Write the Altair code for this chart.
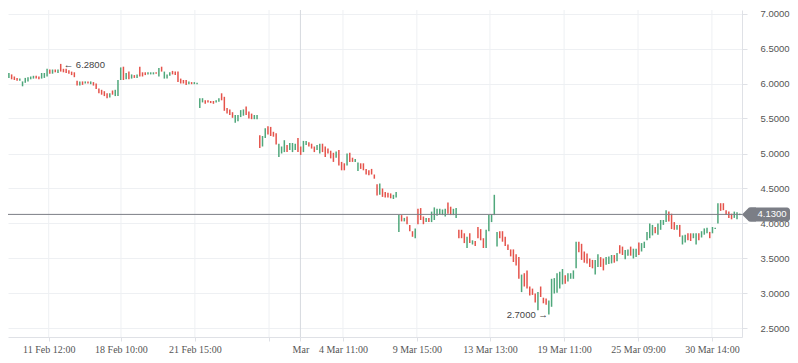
import altair as alt
import numpy as np
import pandas as pd

# ---------------- data ----------------
HIGH = [
    # segment 1
    6.16, 6.13, 6.13, 6.15, 6.13, 6.10, 6.08, 6.07, 6.03, 6.08, 6.09, 6.10, 6.11, 6.11, 6.10,
    6.15, 6.15, 6.21, 6.20, 6.20, 6.20, 6.20, 6.28,
    6.21, 6.21, 6.19, 6.17, 6.16, 6.04, 6.03, 6.03, 6.03, 6.03, 6.03, 6.02, 6.00, 5.93, 5.91, 5.89,
    5.86, 5.86, 5.90, 5.91, 6.05, 6.23,
    # segment 2
    6.24, 6.15, 6.17, 6.13, 6.12, 6.13, 6.24, 6.16, 6.16, 6.16, 6.16, 6.16, 6.16, 6.22, 6.24, 6.17,
    6.13, 6.16, 6.18, 6.17, 6.17, 6.07, 6.05, 6.05, 6.03, 6.02, 6.02, 6.01,
    # segment 3a
    5.79, 5.79, 5.76, 5.76, 5.75, 5.75, 5.76, 5.79, 5.86, 5.81, 5.65, 5.63, 5.59, 5.55, 5.55, 5.62,
    5.63, 5.67, 5.60, 5.57, 5.55, 5.55,
    # segment 3b
    5.26, 5.25, 5.36, 5.39, 5.38, 5.31, 5.29, 5.14, 5.10, 5.19,
    5.12, 5.15, 5.15, 5.14, 5.22, 5.10, 5.18, 5.18, 5.16, 5.14,
    5.10, 5.12, 5.14, 5.14, 5.10, 5.07, 5.04, 5.01, 5.03, 5.05,
    4.88, 4.86, 5.00, 5.01, 4.94, 4.92, 4.87, 4.86, 4.86, 4.78,
    4.76, 4.78, 4.70, 4.56,
    # segment 4
    4.57, 4.50, 4.45, 4.44, 4.43, 4.41, 4.45,
    4.12, 4.12, 4.08, 4.10, 3.98, 3.89, 3.93, 4.21, 4.22, 4.10, 4.08, 4.08, 4.17, 4.23, 4.21, 4.21,
    4.20, 4.21, 4.30, 4.24, 4.21, 4.22,
    3.91, 3.91, 3.86, 3.81, 3.86, 3.76, 3.75, 3.95, 3.92, 3.79, 3.91, 4.12, 4.13, 4.41, 3.88, 3.89,
    3.89, 3.81, 3.70, 3.63, 3.63, 3.56,
    # segment 5
    3.52, 3.27, 3.29, 3.33, 3.10, 3.07, 3.00, 3.02, 3.10, 2.94,
    2.93, 2.90, 3.21, 3.22, 3.29, 3.31, 3.35, 3.26, 3.29, 3.29,
    3.33, 3.74, 3.74, 3.71, 3.60, 3.57, 3.50, 3.48, 3.48, 3.56,
    3.52, 3.50, 3.52, 3.53, 3.55, 3.55, 3.58, 3.69, 3.67, 3.62,
    3.63, 3.67, 3.64, 3.64, 3.73,
    # segment 6
    3.72, 3.74, 3.88, 4.00, 3.98, 3.95, 4.00, 4.05, 4.05, 4.19,
    4.17, 4.14, 4.02, 3.98, 3.98, 3.83, 3.84, 3.86, 3.86, 3.86,
    3.86, 3.86, 3.89, 3.93, 3.94, 3.88, 3.95, 3.94, 4.29,
    4.29, 4.29, 4.19, 4.17, 4.14, 4.17, 4.16, 4.14,
]

LOW = [
    # segment 1
    6.12, 6.07, 6.07, 6.08, 6.06, 6.05, 6.04, 6.04, 5.96, 6.01, 6.03, 6.06, 6.07, 6.07, 6.06,
    6.07, 6.08, 6.10, 6.14, 6.14, 6.16, 6.15, 6.17,
    6.16, 6.15, 6.14, 6.12, 6.09, 5.97, 5.97, 5.98, 6.00, 6.00, 5.99, 5.97, 5.92, 5.86, 5.84, 5.82,
    5.79, 5.80, 5.84, 5.82, 5.82, 6.05,
    # segment 2
    6.05, 6.06, 6.06, 6.07, 6.08, 6.08, 6.10, 6.10, 6.12, 6.13, 6.13, 6.13, 6.14, 6.10, 6.17, 6.07,
    6.07, 6.11, 6.13, 6.12, 6.02, 6.00, 6.00, 5.98, 5.99, 5.99, 5.99, 5.99,
    # segment 3a
    5.65, 5.73, 5.71, 5.73, 5.72, 5.71, 5.73, 5.74, 5.76, 5.61, 5.57, 5.55, 5.51, 5.44, 5.46, 5.52,
    5.54, 5.55, 5.50, 5.49, 5.49, 5.49,
    # segment 3b
    5.08, 5.10, 5.22, 5.27, 5.25, 5.24, 5.13, 4.95, 5.00, 5.02,
    5.02, 5.05, 5.02, 5.05, 5.02, 4.98, 5.02, 5.12, 5.10, 5.07,
    5.02, 5.05, 5.00, 5.02, 4.95, 5.00, 4.93, 4.88, 4.94, 4.83,
    4.76, 4.76, 4.83, 4.88, 4.88, 4.88, 4.75, 4.78, 4.76, 4.70,
    4.69, 4.70, 4.64, 4.40,
    # segment 4
    4.41, 4.38, 4.37, 4.37, 4.36, 4.35, 4.37,
    3.88, 4.03, 4.03, 3.99, 3.89, 3.81, 3.79, 3.99, 4.05, 3.99, 4.02, 4.02, 4.02, 4.05, 4.11, 4.13,
    4.12, 4.10, 4.14, 4.12, 4.12, 4.08,
    3.79, 3.79, 3.72, 3.65, 3.72, 3.70, 3.68, 3.79, 3.76, 3.65, 3.65, 3.89, 4.02, 4.12, 3.67, 3.79,
    3.74, 3.68, 3.62, 3.53, 3.45, 3.40,
    # segment 5
    3.21, 3.02, 3.10, 3.07, 2.97, 2.98, 2.87, 2.76, 2.95, 2.86,
    2.84, 2.70, 2.81, 3.00, 3.01, 3.07, 3.13, 3.14, 3.17, 3.21,
    3.21, 3.36, 3.59, 3.48, 3.44, 3.43, 3.38, 3.36, 3.27, 3.38,
    3.38, 3.33, 3.41, 3.42, 3.43, 3.44, 3.46, 3.57, 3.55, 3.49,
    3.54, 3.54, 3.50, 3.52, 3.55,
    # segment 6
    3.60, 3.65, 3.76, 3.79, 3.83, 3.86, 3.84, 3.91, 3.98, 4.02,
    4.03, 3.92, 3.91, 3.91, 3.81, 3.70, 3.73, 3.76, 3.75, 3.79,
    3.70, 3.76, 3.80, 3.84, 3.86, 3.79, 3.86, 3.92, 4.00,
    4.18, 4.19, 4.12, 4.08, 4.06, 4.08, 4.06, 4.12,
]

# u = rising bar, d = falling bar (one string per segment)
DIRECTION = list((
    "dddu ddduu uuuud duuud ududd ddddd ududu ddddd duduu u"
    "dudud udddu uudud uuudd ddddu duu"
    "uuddd duudd ddduu uuddd uu"
    "duudd dduuu duuud duudd duudd dddud ddudd uuddd dddd"
    "udddduu" "ududd duddd uduuu uuudd uu" "dddud udddd uuuuu ddddd dd"
    "duddd ddudd duuuu uuduu uuddd ddduu dduuu duddu uduud"
    "uuuuu duuuu dddud uuddu uduuu duuu ddddd uuu"
).replace(" ", ""))

TICK_POS = [17.6, 44.1, 71.2, 98.4, 109.9, 125.5, 152.6, 179.4, 206.6, 233.7, 260.8]
TICK_LABELS = ["11 Feb 12:00", "18 Feb 10:00", "21 Feb 15:00", "", "Mar", "4 Mar 11:00",
               "9 Mar 15:00", "13 Mar 13:00", "19 Mar 11:00", "25 Mar 09:00", "30 Mar 14:00"]
Y_TICKS = [2.5, 3.0, 3.5, 4.0, 4.5, 5.0, 5.5, 6.0, 6.5, 7.0]
LAST_PRICE = 4.13

PW, PH = 734, 327
TOP_PAD, RIGHT_PAD, BOTTOM_PAD = 2, 48, 18

X_DOMAIN = [2.67, 271.83]
Y_DOMAIN = [7.05 - PH / 70.0, 7.05]

GREEN = "#4fa77b"
RED = "#e5534b"
GRID = "#eef0f3"
AXIS_LINE = "#dfe1e6"
TAG = "#7b7e86"

# ---------------- frames ----------------
n = min(len(HIGH), len(LOW), len(DIRECTION))
bars = pd.DataFrame({
    "idx": np.arange(n),
    "high": HIGH[:n],
    "low": LOW[:n],
    "dir": DIRECTION[:n],
})
grid = pd.DataFrame({"pos": TICK_POS, "label": TICK_LABELS})

i_hi = int(np.argmax(bars["high"].values))
i_lo = int(np.argmin(bars["low"].values))
hi_df = pd.DataFrame({"idx": [i_hi], "v": [bars["high"][i_hi]],
                      "t": ["\u2190 %.4f" % bars["high"][i_hi]]})
lo_df = pd.DataFrame({"idx": [i_lo], "v": [bars["low"][i_lo]],
                      "t": ["%.4f \u2192" % bars["low"][i_lo]]})
last_df = pd.DataFrame({"price": [LAST_PRICE], "top": [LAST_PRICE + 0.1],
                        "bot": [LAST_PRICE - 0.1], "t": ["%.4f" % LAST_PRICE]})

label_expr = ("[" + ",".join("'%s'" % t for t in TICK_LABELS) + "][indexof([" +
              ",".join(str(v) for v in TICK_POS) + "], datum.value)]")

x_scale = alt.Scale(domain=X_DOMAIN, nice=False, zero=False)
y_scale = alt.Scale(domain=Y_DOMAIN, nice=False, zero=False)

x_axis = alt.Axis(values=TICK_POS, labelExpr=label_expr, grid=False, ticks=True, tickSize=4,
                  tickColor=AXIS_LINE, domainColor=AXIS_LINE, labelFont="Liberation Serif",
                  labelFontSize=10, labelPadding=3, labelOverlap=False, labelFlush=False,
                  labelColor=alt.condition("datum.label == 'Mar'", alt.value("#111111"), alt.value("#555555")),
                  labelFontWeight=alt.condition("datum.label == 'Mar'", alt.value("bold"), alt.value("normal")),
                  title=None)
y_axis = alt.Axis(orient="right", values=Y_TICKS, format=".4f", grid=True, gridColor=GRID,
                  tickSize=5, tickColor=AXIS_LINE, domainColor=AXIS_LINE, labelPadding=13,
                  labelFont="Liberation Sans", labelFontSize=9.5, labelColor="#555555",
                  labelOverlap=False, labelFlush=False, title=None)


def bx(f):
    return alt.X(f, scale=x_scale, axis=x_axis)


def by(f):
    return alt.Y(f, scale=y_scale, axis=y_axis)


vgrid = alt.Chart(grid).mark_rule(strokeWidth=1).encode(
    x=bx("pos:Q"),
    color=alt.condition("datum.label == 'Mar'", alt.value("#d6d9de"), alt.value(GRID)),
)

ohlc = alt.Chart(bars).mark_rule(strokeWidth=1.5, clip=True).encode(
    x=bx("idx:Q"),
    y=by("low:Q"),
    y2="high:Q",
    color=alt.Color("dir:N", scale=alt.Scale(domain=["u", "d"], range=[GREEN, RED]), legend=None),
)

hline = alt.Chart(last_df).mark_rule(color=TAG, strokeWidth=1).encode(
    y=by("price:Q"),
)

tag_body = alt.Chart(last_df).mark_rect(color=TAG, cornerRadius=3).encode(
    x=alt.value(PW + 6), x2=alt.value(PW + RIGHT_PAD),
    y=by("top:Q"), y2="bot:Q",
)
tag_tip = alt.Chart(last_df).mark_point(
    shape="M -1 0 L 0 -1 L 1 -1 L 1 1 L 0 1 Z", filled=True, size=196, opacity=1,
    color=TAG, strokeWidth=0,
).encode(x=alt.value(PW + 7), y=by("price:Q"))
tag_text = alt.Chart(last_df).mark_text(
    color="white", font="Liberation Sans", fontSize=9.5, align="center", baseline="middle",
).encode(x=alt.value(PW + 30), y=by("price:Q"), text="t:N")

hi_text = alt.Chart(hi_df).mark_text(
    align="left", baseline="middle", dx=3, dy=1, font="Liberation Sans", fontSize=9.5, color="#444444",
).encode(x=bx("idx:Q"), y=by("v:Q"), text="t:N")
lo_text = alt.Chart(lo_df).mark_text(
    align="right", baseline="middle", dx=-1, font="Liberation Sans", fontSize=9.5, color="#444444",
).encode(x=bx("idx:Q"), y=by("v:Q"), text="t:N")

chart = alt.layer(vgrid, ohlc, hline, hi_text, lo_text, tag_body, tag_tip, tag_text).properties(
    width=PW, height=PH, background="white",
    autosize=alt.AutoSizeParams(type="none"),
    padding={"left": 0, "top": TOP_PAD, "right": RIGHT_PAD, "bottom": BOTTOM_PAD},
).configure_view(stroke=None)

chart.save("out.html", embed_options={"renderer": "svg", "actions": False})
